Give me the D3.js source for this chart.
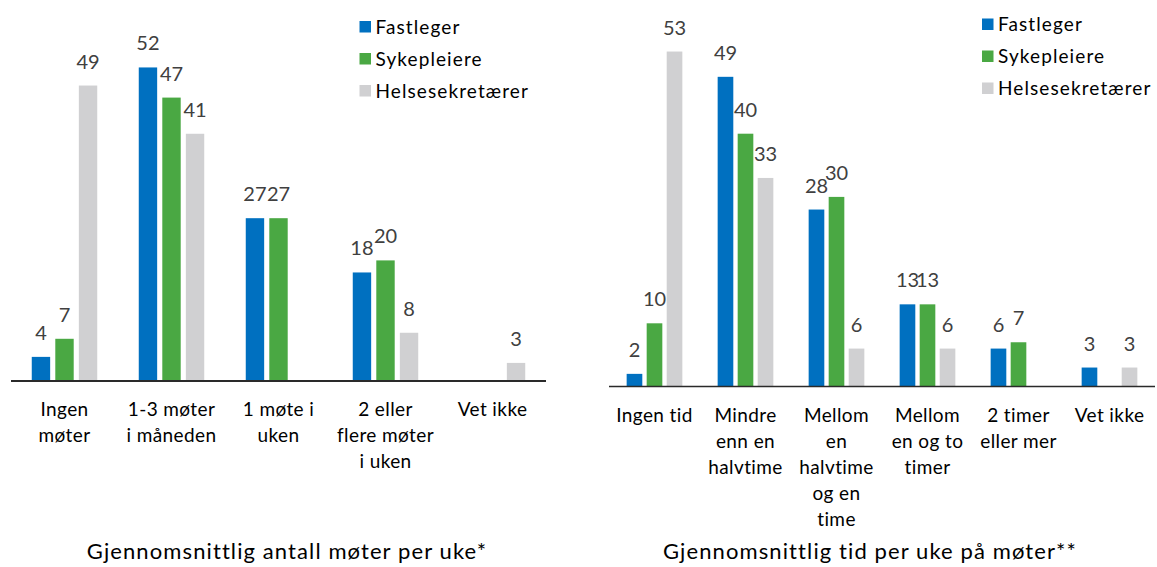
<!DOCTYPE html>
<html>
<head>
<meta charset="utf-8">
<script src="https://cdn.jsdelivr.net/npm/d3@7"></script>
<style>
  html, body { margin: 0; padding: 0; background: #fff; }
  svg { display: block; font-family: Lato, "Open Sans", sans-serif; }
  .value-label { fill: #404040; font-size: 20px; }
  .cat-label { fill: #000; font-size: 19px; letter-spacing: 0.4px; }
  .legend-label { fill: #000; font-size: 19px; letter-spacing: 1.1px; }
  .panel-title { fill: #000; font-size: 22px; letter-spacing: 1.1px; }
</style>
</head>
<body>
<div id="chart"></div>
<script>
// Series (shared by both panels)
const seriesNames = ['Fastleger', 'Sykepleiere', 'Helsesekretærer'];
const seriesColors = ['#0070c0', '#4aa843', '#d0d0d2'];

// Left panel: average number of meetings per week
const meetingCategories = ['Ingen\nmøter', '1-3 møter\ni måneden', '1 møte i\nuken', '2 eller\nflere møter\ni uken', 'Vet ikke'];
const meetingFastleger = [4, 52, 27, 18, null];
const meetingSykepleiere = [7, 47, 27, 20, null];
const meetingHelsesekretaerer = [49, 41, null, 8, 3];

// Right panel: average time per week in meetings
const timeCategories = ['Ingen tid', 'Mindre\nenn en\nhalvtime', 'Mellom\nen\nhalvtime\nog en\ntime', 'Mellom\nen og to\ntimer', '2 timer\neller mer', 'Vet ikke'];
const timeFastleger = [2, 49, 28, 13, 6, 3];
const timeSykepleiere = [10, 40, 30, 13, 7, null];
const timeHelsesekretaerer = [53, 33, 6, 6, null, 3];

const width = 1157;
const height = 567;

const svg = d3.select('#chart')
  .append('svg')
  .attr('width', width)
  .attr('height', height);

function renderPanel(cfg) {
  const g = svg.append('g').attr('class', 'panel');

  const x = d3.scaleBand()
    .domain(cfg.categories)
    .range(cfg.xRange);

  const y = d3.scaleLinear()
    .domain([0, 60])
    .range([cfg.baseline, cfg.baseline - 60 * cfg.pxPerUnit]);

  const bw = x.bandwidth();
  // position of each series inside a category
  const xs = d3.scalePoint()
    .domain(seriesNames)
    .range([-0.22 * bw, 0.22 * bw]);
  const barW = 0.172 * bw;

  const rows = [];
  cfg.categories.forEach((c, i) => {
    cfg.series.forEach((vals, s) => {
      if (vals[i] != null) rows.push({ cat: c, name: seriesNames[s], color: seriesColors[s], value: vals[i] });
    });
  });

  const cx = d => x(d.cat) + bw / 2 + xs(d.name);

  // bars
  g.selectAll('rect.bar')
    .data(rows)
    .enter()
    .append('rect')
    .attr('class', 'bar')
    .attr('x', d => cx(d) - barW / 2)
    .attr('y', d => y(d.value))
    .attr('width', barW)
    .attr('height', d => y(0) - y(d.value))
    .attr('fill', d => d.color);

  // value labels
  g.selectAll('text.value-label')
    .data(rows)
    .enter()
    .append('text')
    .attr('class', 'value-label')
    .attr('x', cx)
    .attr('y', d => y(d.value) - 17)
    .attr('text-anchor', 'middle')
    .text(d => d.value);

  // baseline
  g.append('line')
    .attr('x1', cfg.xRange[0])
    .attr('x2', cfg.xRange[1])
    .attr('y1', y(0))
    .attr('y2', y(0))
    .attr('stroke', '#2a2a2a')
    .attr('stroke-width', cfg.axisWidth);

  // category labels (multi-line)
  const labels = g.selectAll('text.cat-label')
    .data(cfg.categories)
    .enter()
    .append('text')
    .attr('class', 'cat-label')
    .attr('text-anchor', 'middle')
    .attr('transform', d => `translate(${x(d) + bw / 2}, ${y(0) + 35})`);

  labels.selectAll('tspan')
    .data(d => d.split('\n'))
    .enter()
    .append('tspan')
    .attr('x', 0)
    .attr('y', (d, i) => i * 26)
    .text(d => d);

  // legend
  const legend = g.append('g')
    .attr('transform', `translate(${cfg.legendX}, ${cfg.legendY})`);

  const items = legend.selectAll('g')
    .data(seriesNames)
    .enter()
    .append('g')
    .attr('transform', (d, i) => `translate(0, ${i * 32})`);

  items.append('rect')
    .attr('width', 11.5)
    .attr('height', 11.5)
    .attr('fill', (d, i) => seriesColors[i]);

  items.append('text')
    .attr('class', 'legend-label')
    .attr('x', 16)
    .attr('y', 12.5)
    .text(d => d);

  // title
  g.append('text')
    .attr('class', 'panel-title')
    .attr('x', cfg.titleX)
    .attr('y', 559)
    .attr('text-anchor', 'middle')
    .text(cfg.title);
}

renderPanel({
  categories: meetingCategories,
  series: [meetingFastleger, meetingSykepleiere, meetingHelsesekretaerer],
  xRange: [11, 546],
  baseline: 381,
  pxPerUnit: 6.03,
  axisWidth: 2,
  legendX: 359.5,
  legendY: 21,
  titleX: 287,
  title: 'Gjennomsnittlig antall møter per uke*'
});

renderPanel({
  categories: timeCategories,
  series: [timeFastleger, timeSykepleiere, timeHelsesekretaerer],
  xRange: [609, 1155],
  baseline: 386.5,
  pxPerUnit: 6.32,
  axisWidth: 1.5,
  legendX: 982,
  legendY: 18.5,
  titleX: 870,
  title: 'Gjennomsnittlig tid per uke på møter**'
});
</script>
</body>
</html>
